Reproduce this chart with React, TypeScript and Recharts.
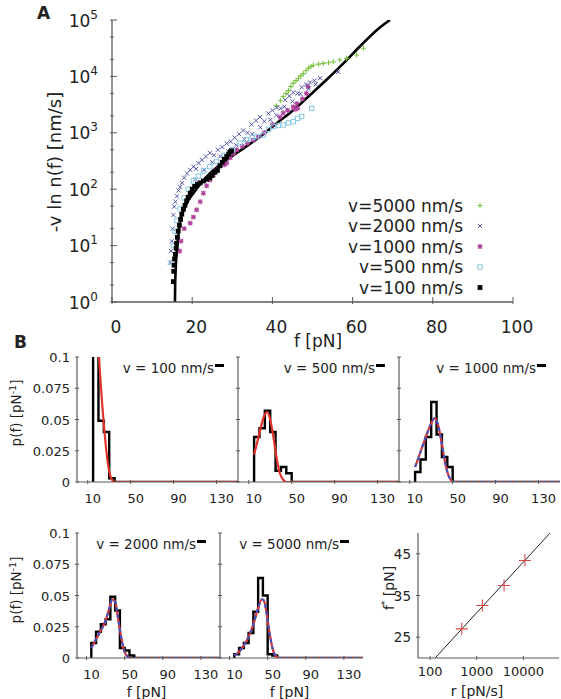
import React from "react";
import { ComposedChart, Scatter, Line, XAxis, YAxis } from "recharts";

const FONT = "'DejaVu Sans', sans-serif";
const FRAME = "#5a5a5a";
const TEXT = "#222";
const GREEN = "#7cc242";
const NAVY = "#45489c";
const MAGENTA = "#b0449c";
const CYAN = "#86c8e2";
const RED = "#e2322c";
const BLUE = "#3d55c4";

// ---------- panel A : [f (pN), -v ln n(f) (nm/s)] ----------
const A_X_TICKS = [0, 20, 40, 60, 80, 100];
const A_Y_MAJOR = [1, 10, 100, 1000, 10000, 100000];
const A_Y_ALL = [1, 2, 5, 10, 20, 50, 100, 200, 500, 1000, 2000, 5000, 10000, 20000, 50000, 100000];

const fitCurve: [number, number][] = [
  [15.7, 1], [15.75, 2], [15.9, 4], [16.1, 7.4], [16.5, 14], [17.0, 28], [18.0, 45], [19.0, 63],
  [20.3, 85], [22.3, 130], [24.4, 190], [26.5, 255], [28.6, 330], [32.7, 525], [36.9, 850],
  [41.1, 1480], [45.2, 2510], [49.4, 4680], [53.5, 8700], [57.7, 17000], [61.8, 33900],
  [66.0, 66000], [69.3, 100000],
];

const v5000Pts: [number, number][] = [
  [41.0, 3000], [42.0, 3700], [42.7, 4400], [43.4, 5000], [44.0, 5600], [44.6, 6600], [45.2, 7600],
  [45.9, 8400], [46.5, 9300], [47.1, 10200], [47.7, 11200], [48.4, 12600], [49.0, 14000],
  [49.6, 15000], [50.2, 15800], [51.5, 16500], [52.7, 17000], [54.0, 17500], [55.2, 18200],
  [56.8, 19500], [58.5, 20900], [61.0, 24000], [62.7, 31600],
];

const v2000Pts: [number, number][] = [
  [14.5, 5], [14.7, 8], [14.9, 12], [15.1, 20], [15.3, 35], [15.5, 49], [15.8, 60], [16.2, 75],
  [16.6, 95], [17.0, 110], [17.5, 130], [18.0, 160], [18.7, 190], [19.5, 220], [20.3, 250],
  [20.8, 150], [21.0, 230], [21.6, 290], [22.4, 330], [23.0, 220], [23.4, 380], [24.4, 440],
  [25.0, 300], [25.4, 400], [26.4, 500], [27.0, 380], [27.5, 560], [28.6, 650], [29.0, 470],
  [29.6, 700], [30.6, 820], [31.0, 600], [31.7, 950], [32.7, 1100], [33.0, 760], [33.8, 1000],
  [34.8, 1400], [35.0, 950], [35.9, 1650], [36.9, 1900], [37.0, 1250], [38.0, 1600],
  [39.0, 2200], [39.5, 1700], [40.0, 2500], [41.0, 2050], [41.1, 2800], [42.1, 2700],
  [43.0, 2900], [43.2, 3800], [44.2, 4500], [45.0, 3600], [45.2, 5200], [46.3, 5000],
  [47.0, 4900], [47.3, 6400], [48.4, 7200], [49.0, 6000], [49.4, 7800], [50.5, 8400],
  [50.8, 7200], [51.9, 9300], [56.4, 12000],
];

const v1000Pts: [number, number][] = [
  [16.9, 8], [17.2, 12], [18.0, 20], [19.5, 25], [20.3, 32], [21.1, 43], [22.0, 60], [22.8, 85],
  [23.6, 115], [24.4, 145], [25.3, 180], [26.1, 220], [27.0, 260], [28.0, 270], [28.6, 290],
  [29.5, 360], [30.3, 430], [31.1, 500], [32.5, 580], [33.8, 650], [35.2, 740], [36.5, 850],
  [38.0, 1000], [40.0, 1400], [41.9, 1900], [42.7, 2240], [43.8, 2500], [45.2, 2880],
  [45.6, 2600], [46.1, 3300], [46.3, 2700], [47.5, 4000], [48.5, 5000], [48.9, 6600],
];

const v500Pts: [number, number][] = [
  [15.0, 5], [15.3, 10], [15.7, 18], [16.2, 28], [17.0, 45], [18.0, 70], [19.0, 100],
  [20.3, 140], [21.5, 170], [22.8, 210], [24.4, 250], [26.0, 310], [28.0, 400], [30.0, 500],
  [31.9, 660], [33.5, 750], [35.0, 820], [36.0, 850], [37.7, 910], [39.0, 1150], [40.2, 1290],
  [41.5, 1350], [42.7, 1380], [44.0, 1500], [45.2, 1580], [46.3, 1800], [47.3, 1950],
  [49.8, 2700],
];

const v100Pts: [number, number][] = [
  [15.3, 2.3], [15.4, 3.5], [15.5, 4.5], [15.6, 5.8], [15.8, 7], [16.0, 9], [16.1, 11],
  [16.3, 14], [16.5, 18], [16.8, 23], [17.1, 29], [17.4, 36], [17.8, 44], [18.2, 52],
  [18.6, 62], [19.0, 72], [19.5, 85], [20.0, 100], [20.6, 112], [21.3, 122], [22.0, 130],
  [22.8, 140], [23.6, 150], [24.4, 160], [25.0, 175], [25.7, 200], [26.3, 215], [26.9, 260],
  [27.5, 300], [28.0, 340], [28.6, 380], [29.1, 420], [29.5, 460], [29.8, 480],
];

// ---------- panel B : histograms p(f) and fits ----------
const B_X_TICKS = [10, 50, 90, 130];
const B_Y_TICKS = [0, 0.025, 0.05, 0.075, 0.1];
const binEdges = [15, 20, 25, 30, 35, 40, 45, 50, 55, 60];

const hist100 = [0.107, 0.049, 0.04, 0.003];
const hist500 = [0.036, 0.043, 0.057, 0.04, 0.009, 0.012, 0.007];
const hist1000 = [0.008, 0.018, 0.036, 0.064, 0.038, 0.02, 0.012];
const hist2000 = [0.012, 0.021, 0.027, 0.031, 0.049, 0.038, 0.008, 0.006, 0.002];
const hist5000 = [0.003, 0.008, 0.012, 0.02, 0.037, 0.064, 0.05, 0.003, 0.002];

const fit100F = [18, 19, 20.5, 22, 23.5, 25, 26.5, 28, 29.5, 31, 32.5, 34, 36, 150];
const fit100P = [0.16, 0.13, 0.1, 0.08, 0.062, 0.046, 0.032, 0.02, 0.011, 0.005, 0.002, 0.0005, 0, 0];
const fit500F = [15, 18, 21, 24, 27, 30, 33, 36, 39, 42, 45, 150];
const fit500P = [0.022, 0.032, 0.043, 0.052, 0.056, 0.05, 0.036, 0.019, 0.007, 0.002, 0, 0];
const fit1000F = [15, 20, 25, 30, 33, 36, 39, 42, 45, 48, 51, 150];
const fit1000P = [0.012, 0.024, 0.036, 0.047, 0.051, 0.047, 0.035, 0.02, 0.008, 0.002, 0, 0];
const fit2000F = [15, 20, 25, 30, 34, 37, 40, 43, 46, 49, 52, 56, 150];
const fit2000P = [0.008, 0.015, 0.022, 0.03, 0.04, 0.047, 0.045, 0.032, 0.018, 0.007, 0.002, 0, 0];
const fit5000F = [15, 20, 25, 30, 35, 40, 44, 46, 48, 50, 52, 55, 58, 62, 150];
const fit5000P = [0.002, 0.005, 0.01, 0.017, 0.027, 0.04, 0.047, 0.046, 0.04, 0.03, 0.02, 0.008, 0.002, 0, 0];

// ---------- last panel : f* vs loading rate ----------
const rateR = [477, 1318, 3850, 10800];
const fStar = [27.0, 32.6, 37.4, 43.4];
const rateFitR = [128, 37300];
const rateFitF = [20, 50];

const toA = (pts: [number, number][]) => pts.map(([f, y]) => ({ f, y }));
const toP = (fs: number[], ps: number[]) => fs.map((f, i) => ({ f, p: ps[i] }));
function histLine(h: number[]) {
  const pts = [{ f: binEdges[0], p: 0 }];
  h.forEach((v, i) => pts.push({ f: binEdges[i], p: v }));
  pts.push({ f: binEdges[h.length], p: 0 });
  pts.push({ f: 150, p: 0 });
  return pts;
}

type Side = "left" | "right" | "top" | "bottom";
function makeTick(
  side: Side,
  len: number,
  majors: number[] | null,
  fmt: ((v: number) => React.ReactNode) | null,
  size: number,
  dx = 0,
  dy = 0
) {
  return (props: any) => {
    const { x, y, payload } = props;
    const v = payload.value;
    const major = !majors || majors.includes(v);
    const L = major ? len : len * 0.55;
    let x2 = x;
    let y2 = y;
    if (side === "left") x2 = x + L;
    else if (side === "right") x2 = x - L;
    else if (side === "top") y2 = y + L;
    else y2 = y - L;
    return (
      <g>
        <line x1={x} y1={y} x2={x2} y2={y2} stroke={FRAME} strokeWidth={1} />
        {major && fmt && (
          <text
            x={x + dx}
            y={y + dy}
            textAnchor={side === "left" ? "end" : "middle"}
            fontFamily={FONT}
            fontSize={size}
            fill={TEXT}
          >
            {fmt(v)}
          </text>
        )}
      </g>
    );
  };
}

const powLabel = (v: number) => (
  <>
    10
    <tspan dy={-8} fontSize={12}>
      {Math.round(Math.log10(v))}
    </tspan>
  </>
);

const plusShape = (c: string, r: number) => (p: any) =>
  <path d={`M${p.cx - r},${p.cy}h${2 * r}M${p.cx},${p.cy - r}v${2 * r}`} stroke={c} strokeWidth={1.1} fill="none" />;
const crossShape = (p: any) => (
  <path d={`M${p.cx - 2.1},${p.cy - 2.1}l4.2,4.2M${p.cx - 2.1},${p.cy + 2.1}l4.2,-4.2`} stroke={NAVY} strokeWidth={0.9} fill="none" />
);
const starShape = (p: any) => (
  <path
    d={`M${p.cx - 2.5},${p.cy}h5M${p.cx},${p.cy - 2.5}v5M${p.cx - 2},${p.cy - 2}l4,4M${p.cx - 2},${p.cy + 2}l4,-4`}
    stroke={MAGENTA}
    strokeWidth={1.1}
    fill="none"
  />
);
const openSquare = (p: any) => (
  <rect x={p.cx - 2.2} y={p.cy - 2.2} width={4.4} height={4.4} stroke={CYAN} strokeWidth={1} fill="none" />
);
const filledSquare = (p: any) => <rect x={p.cx - 2.4} y={p.cy - 2.4} width={4.8} height={4.8} fill="#000" />;

function PanelA() {
  const axis = { stroke: FRAME, strokeWidth: 1.3 };
  return (
    <div style={{ position: "absolute", left: 0, top: 0 }}>
      <ComposedChart width={561} height={340} margin={{ top: 20, right: 48, bottom: 0, left: 0 }}>
        <XAxis xAxisId="b" dataKey="f" type="number" domain={[0, 100]} ticks={A_X_TICKS} interval={0}
          allowDataOverflow height={38} tickSize={0} tickLine={false} axisLine={axis}
          tick={makeTick("bottom", 7, null, (v) => String(v), 17, 4, 29)} />
        <XAxis xAxisId="t" orientation="top" dataKey="f" type="number" domain={[0, 100]} ticks={A_X_TICKS}
          interval={0} allowDataOverflow height={0} tickSize={0} tickLine={false} axisLine={axis}
          tick={makeTick("top", 7, null, null, 0)} />
        <YAxis yAxisId="l" dataKey="y" type="number" scale="log" domain={[1, 100000]} ticks={A_Y_ALL}
          interval={0} allowDataOverflow width={112} tickSize={0} tickLine={false} axisLine={axis}
          tick={makeTick("left", 7, A_Y_MAJOR, powLabel, 17, -12, 6.5)} />
        <YAxis yAxisId="r" orientation="right" dataKey="y" type="number" scale="log" domain={[1, 100000]}
          ticks={A_Y_ALL} interval={0} allowDataOverflow width={0} tickSize={0} tickLine={false} axisLine={axis}
          tick={makeTick("right", 7, A_Y_MAJOR, null, 0)} />
        <Scatter xAxisId="b" yAxisId="l" data={toA(v5000Pts)} shape={plusShape(GREEN, 2.6)} isAnimationActive={false} />
        <Scatter xAxisId="b" yAxisId="l" data={toA(v1000Pts)} shape={starShape} isAnimationActive={false} />
        <Scatter xAxisId="b" yAxisId="l" data={toA(v2000Pts)} shape={crossShape} isAnimationActive={false} />
        <Scatter xAxisId="b" yAxisId="l" data={toA(v500Pts)} shape={openSquare} isAnimationActive={false} />
        <Scatter xAxisId="b" yAxisId="l" data={toA(v100Pts)} shape={filledSquare} isAnimationActive={false} />
        <Line xAxisId="b" yAxisId="l" data={toA(fitCurve)} dataKey="y" type="monotone" stroke="#000"
          strokeWidth={2.6} dot={false} isAnimationActive={false} />
      </ComposedChart>
    </div>
  );
}

const fmtB = (v: number) => String(v);

function HistPanel(props: {
  left: number; top: number; w: number; h: number;
  hist: { f: number; p: number }[]; red: { f: number; p: number }[]; blue?: boolean; yLabels: boolean;
}) {
  const { left, top, w, h, hist, red, blue, yLabels } = props;
  const ML = 60, MT = 10, MB = 30, MR = 10;
  const axis = { stroke: FRAME, strokeWidth: 1.2 };
  return (
    <div style={{ position: "absolute", left: left - ML, top: top - MT }}>
      <ComposedChart width={w + ML + MR} height={h + MT + MB} margin={{ top: MT, right: MR, bottom: 0, left: 0 }}>
        <XAxis xAxisId="b" dataKey="f" type="number" domain={[0, 150]} ticks={B_X_TICKS} interval={0}
          allowDataOverflow height={MB} tickSize={0} tickLine={false} axisLine={axis}
          tick={makeTick("bottom", 4, null, fmtB, 13, 5, 19)} />
        <XAxis xAxisId="t" orientation="top" dataKey="f" type="number" domain={[0, 150]} ticks={B_X_TICKS}
          interval={0} allowDataOverflow height={0} tickSize={0} tickLine={false} axisLine={axis}
          tick={makeTick("top", 4, null, null, 0)} />
        <YAxis yAxisId="l" dataKey="p" type="number" domain={[0, 0.1]} ticks={B_Y_TICKS} interval={0}
          allowDataOverflow width={ML} tickSize={0} tickLine={false} axisLine={axis}
          tick={makeTick("left", 4, null, yLabels ? fmtB : null, 13, -5, 5)} />
        <YAxis yAxisId="r" orientation="right" dataKey="p" type="number" domain={[0, 0.1]} ticks={B_Y_TICKS}
          interval={0} allowDataOverflow width={0} tickSize={0} tickLine={false} axisLine={axis}
          tick={makeTick("right", 4, null, null, 0)} />
        <Line xAxisId="b" yAxisId="l" data={hist} dataKey="p" type="stepAfter" stroke="#000" strokeWidth={2.4}
          dot={false} isAnimationActive={false} />
        <Line xAxisId="b" yAxisId="l" data={red} dataKey="p" type="monotone" stroke={RED} strokeWidth={2.2}
          dot={false} isAnimationActive={false} />
        {blue && (
          <Line xAxisId="b" yAxisId="l" data={red} dataKey="p" type="monotone" stroke={BLUE} strokeWidth={2}
            strokeDasharray="4 3" dot={false} isAnimationActive={false} />
        )}
      </ComposedChart>
    </div>
  );
}

function RatePanel() {
  const left = 418, top = 533, w = 141, h = 125;
  const ML = 60, MT = 10, MB = 30, MR = 2;
  const axis = { stroke: FRAME, strokeWidth: 1.2 };
  const pts = rateR.map((r, i) => ({ r, f: fStar[i] }));
  const fit = rateFitR.map((r, i) => ({ r, f: rateFitF[i] }));
  return (
    <div style={{ position: "absolute", left: left - ML, top: top - MT }}>
      <ComposedChart width={w + ML + MR} height={h + MT + MB} margin={{ top: MT, right: MR, bottom: 0, left: 0 }}>
        <XAxis xAxisId="b" dataKey="r" type="number" scale="log" domain={[55, 58000]} ticks={[100, 1000, 10000]}
          interval={0} allowDataOverflow height={MB} tickSize={0} tickLine={false} axisLine={axis}
          tick={makeTick("bottom", 4, null, fmtB, 13, 0, 16)} />
        <XAxis xAxisId="t" orientation="top" dataKey="r" type="number" scale="log" domain={[55, 58000]}
          ticks={[100, 1000, 10000]} interval={0} allowDataOverflow height={0} tickSize={0} tickLine={false}
          axisLine={axis} tick={makeTick("top", 4, null, null, 0)} />
        <YAxis yAxisId="l" dataKey="f" type="number" domain={[20, 50]} ticks={[25, 35, 45]} interval={0}
          allowDataOverflow width={ML} tickSize={0} tickLine={false} axisLine={axis}
          tick={makeTick("left", 4, null, fmtB, 13.5, -5, 5)} />
        <YAxis yAxisId="r" orientation="right" dataKey="f" type="number" domain={[20, 50]} ticks={[25, 35, 45]}
          interval={0} allowDataOverflow width={0} tickSize={0} tickLine={false} axisLine={axis}
          tick={makeTick("right", 4, null, null, 0)} />
        <Line xAxisId="b" yAxisId="l" data={fit} dataKey="f" type="linear" stroke="#222" strokeWidth={1}
          dot={false} isAnimationActive={false} />
        <Scatter xAxisId="b" yAxisId="l" data={pts} shape={plusShape("#d84848", 6)} isAnimationActive={false} />
      </ComposedChart>
    </div>
  );
}

const legendA = [
  { label: "v=5000 nm/s", shape: plusShape(GREEN, 2.6) },
  { label: "v=2000 nm/s", shape: crossShape },
  { label: "v=1000 nm/s", shape: starShape },
  { label: "v=500 nm/s", shape: openSquare },
  { label: "v=100 nm/s", shape: filledSquare },
];

const histLegends = [
  { label: "v = 100 nm/s", right: 238, top: 357 },
  { label: "v = 500 nm/s", right: 399, top: 357 },
  { label: "v = 1000 nm/s", right: 560, top: 357 },
  { label: "v = 2000 nm/s", right: 220, top: 533 },
  { label: "v = 5000 nm/s", right: 363, top: 533 },
];

function Overlay() {
  const t = { fontFamily: FONT, fill: TEXT };
  return (
    <svg width={561} height={699} style={{ position: "absolute", left: 0, top: 0, pointerEvents: "none" }}>
      <text x={37} y={19} {...t} fontSize={17} fontWeight="bold">A</text>
      <text x={14} y={348} {...t} fontSize={17} fontWeight="bold">B</text>
      <text transform="translate(61,162) rotate(-90)" textAnchor="middle" {...t} fontSize={18}>
        -v ln n(f) [nm/s]
      </text>
      <text x={318} y={347} textAnchor="middle" {...t} fontSize={17}>f [pN]</text>
      {legendA.map((l, i) => {
        const base = 211.5 + i * 20.5;
        return (
          <g key={l.label}>
            <text x={463} y={base} textAnchor="end" {...t} fontSize={17}>{l.label}</text>
            {l.shape({ cx: 480, cy: base - 6 })}
          </g>
        );
      })}
      {[413, 590].map((cy) => (
        <text key={cy} transform={`translate(21,${cy}) rotate(-90)`} textAnchor="middle" {...t} fontSize={13.5}>
          p(f)  [pN<tspan dy={-5} fontSize={9.5}>-1</tspan><tspan dy={5}>]</tspan>
        </text>
      ))}
      {histLegends.map((l) => (
        <g key={l.label}>
          <text x={l.right - 24} y={l.top + 16} textAnchor="end" {...t} fontSize={13.5}>{l.label}</text>
          <line x1={l.right - 23} x2={l.right - 14} y1={l.top + 8.5} y2={l.top + 8.5} stroke="#000" strokeWidth={3} />
        </g>
      ))}
      <text x={146.5} y={697} textAnchor="middle" {...t} fontSize={14}>f  [pN]</text>
      <text x={289.5} y={697} textAnchor="middle" {...t} fontSize={14}>f  [pN]</text>
      <text x={477} y={696} textAnchor="middle" {...t} fontSize={14}>r  [pN/s]</text>
      <text transform="translate(394,588) rotate(-90)" textAnchor="middle" {...t} fontSize={14}>
        f<tspan dy={-6} fontSize={9}>*</tspan><tspan dy={6}>  [pN]</tspan>
      </text>
    </svg>
  );
}

export default function App() {
  return (
    <div style={{ position: "relative", width: 561, height: 699, background: "#fff", overflow: "hidden" }}>
      <style>{`body{margin:0}`}</style>
      <PanelA />
      <HistPanel left={77} top={357} w={161} h={125} hist={histLine(hist100)} red={toP(fit100F, fit100P)} yLabels />
      <HistPanel left={238} top={357} w={161} h={125} hist={histLine(hist500)} red={toP(fit500F, fit500P)} yLabels={false} />
      <HistPanel left={399} top={357} w={161} h={125} hist={histLine(hist1000)} red={toP(fit1000F, fit1000P)} blue yLabels={false} />
      <HistPanel left={77} top={533} w={143} h={125} hist={histLine(hist2000)} red={toP(fit2000F, fit2000P)} blue yLabels />
      <HistPanel left={220} top={533} w={143} h={125} hist={histLine(hist5000)} red={toP(fit5000F, fit5000P)} blue yLabels={false} />
      <RatePanel />
      <Overlay />
    </div>
  );
}
